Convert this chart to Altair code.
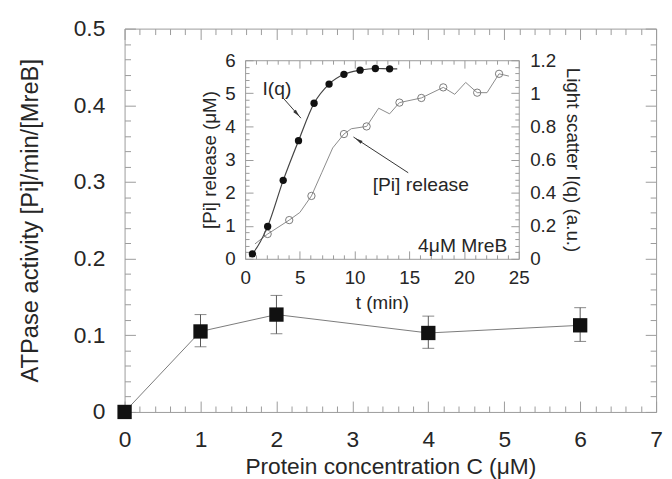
import altair as alt
import pandas as pd

# ---------------- data ----------------
# main panel: ATPase activity vs protein concentration
conc = [0, 1, 2, 4, 6]
atpase = [0.0, 0.105, 0.127, 0.103, 0.113]
err_lo = [0.0, 0.085, 0.102, 0.083, 0.092]
err_hi = [0.0, 0.127, 0.152, 0.125, 0.136]

# inset: light scattering I(q) (a.u., right axis), filled circles + smooth curve
iq_t = [0.67, 2.06, 3.48, 4.88, 6.30, 7.67, 9.03, 10.5, 11.9, 13.2]
iq_au = [0.03, 0.196, 0.474, 0.714, 0.94, 1.056, 1.115, 1.14, 1.15, 1.148]
iq_line_t = [0.4, 0.67, 2.06, 3.48, 4.88, 6.30, 7.67, 9.03, 10.5, 11.9, 13.2, 13.9]
iq_line_au = [0.01, 0.03, 0.196, 0.474, 0.714, 0.94, 1.056, 1.115, 1.14, 1.15, 1.148, 1.148]

# inset: [Pi] release (µM, left axis), open circles + raw trace
pi_t = [2.06, 4.03, 6.06, 9.03, 11.1, 14.1, 16.1, 18.1, 21.2, 23.2]
pi_um = [0.75, 1.17, 1.9, 3.77, 4.0, 4.72, 4.86, 5.18, 5.02, 5.59]
pi_line_t = [0.9, 2.06, 4.03, 5.0, 6.06, 7.0, 8.0, 9.03, 9.7, 11.1, 12.2, 13.2,
             14.1, 16.1, 18.1, 19.15, 20.15, 21.2, 22.1, 23.2, 24.1]
pi_line_um = [0.45, 0.75, 1.17, 1.4, 1.9, 2.6, 3.35, 3.77, 3.93, 4.0, 4.55, 4.38,
              4.72, 4.86, 5.18, 4.97, 5.33, 5.02, 5.02, 5.59, 5.52]

# inset annotations (in inset t / µM coordinates)
ann_text = ["I(q)", "[Pi] release", "4μM MreB"]
ann_t = [2.9, 16.05, 23.95]
ann_v = [5.14, 2.24, 0.37]
ann_size = [19.5, 19.5, 19.5]
ann_align = ["center", "center", "right"]
arrow_t0 = [3.5, 14.9]
arrow_v0 = [4.85, 2.6]
arrow_t1 = [5.1, 9.9]
arrow_v1 = [4.25, 3.68]
head_t = [4.74, 10.35]
head_v = [4.385, 3.58]
head_angle = [139, 303]

# ---------------- layout constants ----------------
W, H = 538, 388
IN_X = [122, 399]
IN_Y = [233, 32]
FONT = "Liberation Sans"
TXT = "#262626"
FRAME = "#9a9a9a"
FS_MAIN = 23
FS_IN = 19

main_df = pd.DataFrame({"c": conc, "a": atpase, "lo": err_lo, "hi": err_hi})
err_df = main_df[main_df["c"] > 0]
iq_df = pd.DataFrame({"t": iq_t, "v": iq_au})
iq_line_df = pd.DataFrame({"t": iq_line_t, "v": iq_line_au})
pi_df = pd.DataFrame({"t": pi_t, "v": pi_um})
pi_line_df = pd.DataFrame({"t": pi_line_t, "v": pi_line_um})
ann_df = pd.DataFrame({"txt": ann_text, "t": ann_t, "v": ann_v})
arrow_df = pd.DataFrame({"t0": arrow_t0, "v0": arrow_v0, "t1": arrow_t1, "v1": arrow_v1})
head_df = pd.DataFrame({"t": head_t, "v": head_v, "ang": head_angle})


def xs_main():
    return alt.Scale(domain=[0, 7], nice=False, zero=False)


def ys_main():
    return alt.Scale(domain=[0, 0.5], nice=False, zero=False)


def xs_in():
    return alt.Scale(domain=[0, 25], range=IN_X, nice=False, zero=False)


def ys_in():
    return alt.Scale(domain=[0, 6], range=IN_Y, nice=False, zero=False)


def ys_in_r():
    return alt.Scale(domain=[0, 1.2], range=IN_Y, nice=False, zero=False)


def tick_axis(orient, offset, values, size, domain=False):
    return alt.Axis(orient=orient, offset=offset, values=values, labels=False,
                    domain=domain, domainColor=FRAME, ticks=True, tickColor=FRAME,
                    tickWidth=1, tickSize=size, title=None, grid=False)


# tick positions for axes (major / minor)
mx_major = list(range(8))
mx_minor = [round(i * 0.2, 1) for i in range(36) if i % 5]
my_major = [0, 0.1, 0.2, 0.3, 0.4, 0.5]
my_minor = [round(i * 0.02, 2) for i in range(26) if i % 5]
ix_major = [0, 5, 10, 15, 20, 25]
ix_minor = [i for i in range(26) if i % 5]
iy_major = list(range(7))
iy_minor = [round(i * 0.2, 1) for i in range(31) if i % 5]
ir_major = [0, 0.2, 0.4, 0.6, 0.8, 1, 1.2]
ir_minor = [round(i * 0.04, 2) for i in range(31) if i % 5]

base_main = alt.Chart(main_df)
base_in = alt.Chart(pi_df)
ghost = dict(opacity=0)


def main_pair(xaxis, yaxis):
    return base_main.mark_point(**ghost).encode(
        x=alt.X("c:Q", scale=xs_main(), axis=xaxis),
        y=alt.Y("a:Q", scale=ys_main(), axis=yaxis))


def inset_pair(xaxis, yaxis, right=False):
    return base_in.mark_point(**ghost).encode(
        x=alt.X("t:Q", scale=xs_in(), axis=xaxis),
        y=alt.Y("v:Q", scale=ys_in_r() if right else ys_in(), axis=yaxis))


# --- main frame axes ---
m_labels = main_pair(
    alt.Axis(orient="bottom", values=mx_major, ticks=False, tickSize=0, domain=True,
             domainColor=FRAME, labelFontSize=FS_MAIN, labelPadding=17, labelFlush=False,
             labelOverlap=False, title="Protein concentration C (μM)",
             titleFontSize=FS_MAIN, titlePadding=4),
    alt.Axis(orient="left", values=my_major, format="~g", ticks=False, tickSize=0,
             domain=True, domainColor=FRAME, labelFontSize=FS_MAIN, labelPadding=20,
             labelFlush=False, labelOverlap=False, title="ATPase activity [Pi]/min/[MreB]",
             titleFontSize=24, titlePadding=31),
)
m_t1 = main_pair(tick_axis("top", -H, mx_major, 11), tick_axis("right", -W, my_major, 11))
m_t2 = main_pair(tick_axis("top", -H, mx_minor, 6), tick_axis("right", -W, my_minor, 6))
m_t3 = main_pair(tick_axis("bottom", -H, mx_major, 11, True), tick_axis("left", -W, my_major, 11, True))
m_t4 = main_pair(tick_axis("bottom", -H, mx_minor, 6), tick_axis("left", -W, my_minor, 6))

# --- main data ---
m_line = base_main.mark_line(color="#7a7a7a", strokeWidth=1).encode(
    x=alt.X("c:Q", scale=xs_main(), axis=None), y=alt.Y("a:Q", scale=ys_main(), axis=None))
m_err = alt.Chart(err_df).mark_rule(color="#555555", strokeWidth=1).encode(
    x=alt.X("c:Q", scale=xs_main(), axis=None), y=alt.Y("lo:Q", scale=ys_main(), axis=None),
    y2="hi:Q")
m_cap_lo = alt.Chart(err_df).mark_tick(color="#555555", orient="horizontal", size=12, thickness=1).encode(
    x=alt.X("c:Q", scale=xs_main(), axis=None), y=alt.Y("lo:Q", scale=ys_main(), axis=None))
m_cap_hi = alt.Chart(err_df).mark_tick(color="#555555", orient="horizontal", size=12, thickness=1).encode(
    x=alt.X("c:Q", scale=xs_main(), axis=None), y=alt.Y("hi:Q", scale=ys_main(), axis=None))
m_sq = base_main.mark_square(size=210, color="#111111", opacity=1).encode(
    x=alt.X("c:Q", scale=xs_main(), axis=None), y=alt.Y("a:Q", scale=ys_main(), axis=None))

# --- inset frame axes ---
i_labels = inset_pair(
    alt.Axis(orient="bottom", offset=IN_Y[0] - H, values=ix_major, ticks=False, tickSize=0,
             domain=True, domainColor=FRAME, labelFontSize=FS_IN, labelPadding=10,
             labelFlush=False, labelOverlap=False, title="t (min)", titleFontSize=FS_IN,
             titlePadding=6),
    alt.Axis(orient="left", offset=-IN_X[0], values=iy_major, ticks=False, tickSize=0,
             domain=True, domainColor=FRAME, labelFontSize=FS_IN, labelPadding=10,
             labelFlush=False, labelOverlap=False, title="[Pi] release (μM)",
             titleFontSize=FS_IN, titlePadding=5),
)
i_rlabels = inset_pair(
    None,
    alt.Axis(orient="right", offset=IN_X[1] - W, values=ir_major, format="~g", ticks=False,
             tickSize=0, domain=True, domainColor=FRAME, labelFontSize=FS_IN,
             labelPadding=11, labelFlush=False, labelOverlap=False,
             title="Light scatter I(q) (a.u.)", titleFontSize=FS_IN, titlePadding=7),
    right=True,
)
i_t1 = inset_pair(tick_axis("top", -IN_Y[0], ix_major, 8), tick_axis("right", IN_X[0] - W, iy_major, 8))
i_t2 = inset_pair(tick_axis("top", -IN_Y[0], ix_minor, 4), tick_axis("right", IN_X[0] - W, iy_minor, 4))
i_t3 = inset_pair(tick_axis("bottom", IN_Y[1] - H, ix_major, 8, True),
                  tick_axis("left", -IN_X[1], ir_major, 8), right=True)
i_t4 = inset_pair(tick_axis("bottom", IN_Y[1] - H, ix_minor, 4),
                  tick_axis("left", -IN_X[1], ir_minor, 4), right=True)

# --- inset data ---
i_pi_line = alt.Chart(pi_line_df).mark_line(color="#8a8a8a", strokeWidth=1).encode(
    x=alt.X("t:Q", scale=xs_in(), axis=None), y=alt.Y("v:Q", scale=ys_in(), axis=None))
i_pi_pts = base_in.mark_point(shape="circle", size=55, filled=False, color="#7a7a7a",
                              strokeWidth=1, opacity=1).encode(
    x=alt.X("t:Q", scale=xs_in(), axis=None), y=alt.Y("v:Q", scale=ys_in(), axis=None))
i_iq_line = alt.Chart(iq_line_df).mark_line(color="#444444", strokeWidth=1.2,
                                            interpolate="monotone").encode(
    x=alt.X("t:Q", scale=xs_in(), axis=None), y=alt.Y("v:Q", scale=ys_in_r(), axis=None))
i_iq_pts = alt.Chart(iq_df).mark_circle(size=55, color="#111111", opacity=1).encode(
    x=alt.X("t:Q", scale=xs_in(), axis=None), y=alt.Y("v:Q", scale=ys_in_r(), axis=None))

i_text = alt.layer(*[
    alt.Chart(ann_df.iloc[[k]]).mark_text(font=FONT, fontSize=ann_size[k], color=TXT,
                                          align=ann_align[k], baseline="middle").encode(
        x=alt.X("t:Q", scale=xs_in(), axis=None), y=alt.Y("v:Q", scale=ys_in(), axis=None),
        text="txt:N")
    for k in range(len(ann_text))
])
i_arrows = alt.Chart(arrow_df).mark_rule(color="#333333", strokeWidth=1).encode(
    x=alt.X("t0:Q", scale=xs_in(), axis=None), y=alt.Y("v0:Q", scale=ys_in(), axis=None),
    x2="t1:Q", y2="v1:Q")
i_heads = alt.Chart(head_df).mark_point(shape="M0,-1L0.45,1L-0.45,1Z", size=60, filled=True,
                                        color="#333333", opacity=1).encode(
    x=alt.X("t:Q", scale=xs_in(), axis=None), y=alt.Y("v:Q", scale=ys_in(), axis=None),
    angle=alt.Angle("ang:Q", scale=None))

chart = alt.layer(
    m_labels, m_t1, m_t2, m_t3, m_t4,
    i_labels, i_rlabels, i_t1, i_t2, i_t3, i_t4,
    m_line, m_err, m_cap_lo, m_cap_hi, m_sq,
    i_pi_line, i_pi_pts, i_iq_line, i_iq_pts,
    i_arrows, i_heads, i_text,
).resolve_scale(
    x="independent", y="independent"
).resolve_axis(
    x="independent", y="independent"
).properties(
    width=W, height=H,
    autosize=alt.AutoSizeParams(type="none"),
    padding={"left": 118, "top": 18, "right": 8, "bottom": 65},
).configure_view(
    stroke=None
).configure_axis(
    grid=False, labelFont=FONT, titleFont=FONT, labelColor=TXT, titleColor=TXT,
    titleFontWeight="normal",
).configure_text(font=FONT)

chart.save("out.html", embed_options={"renderer": "svg", "actions": False})
